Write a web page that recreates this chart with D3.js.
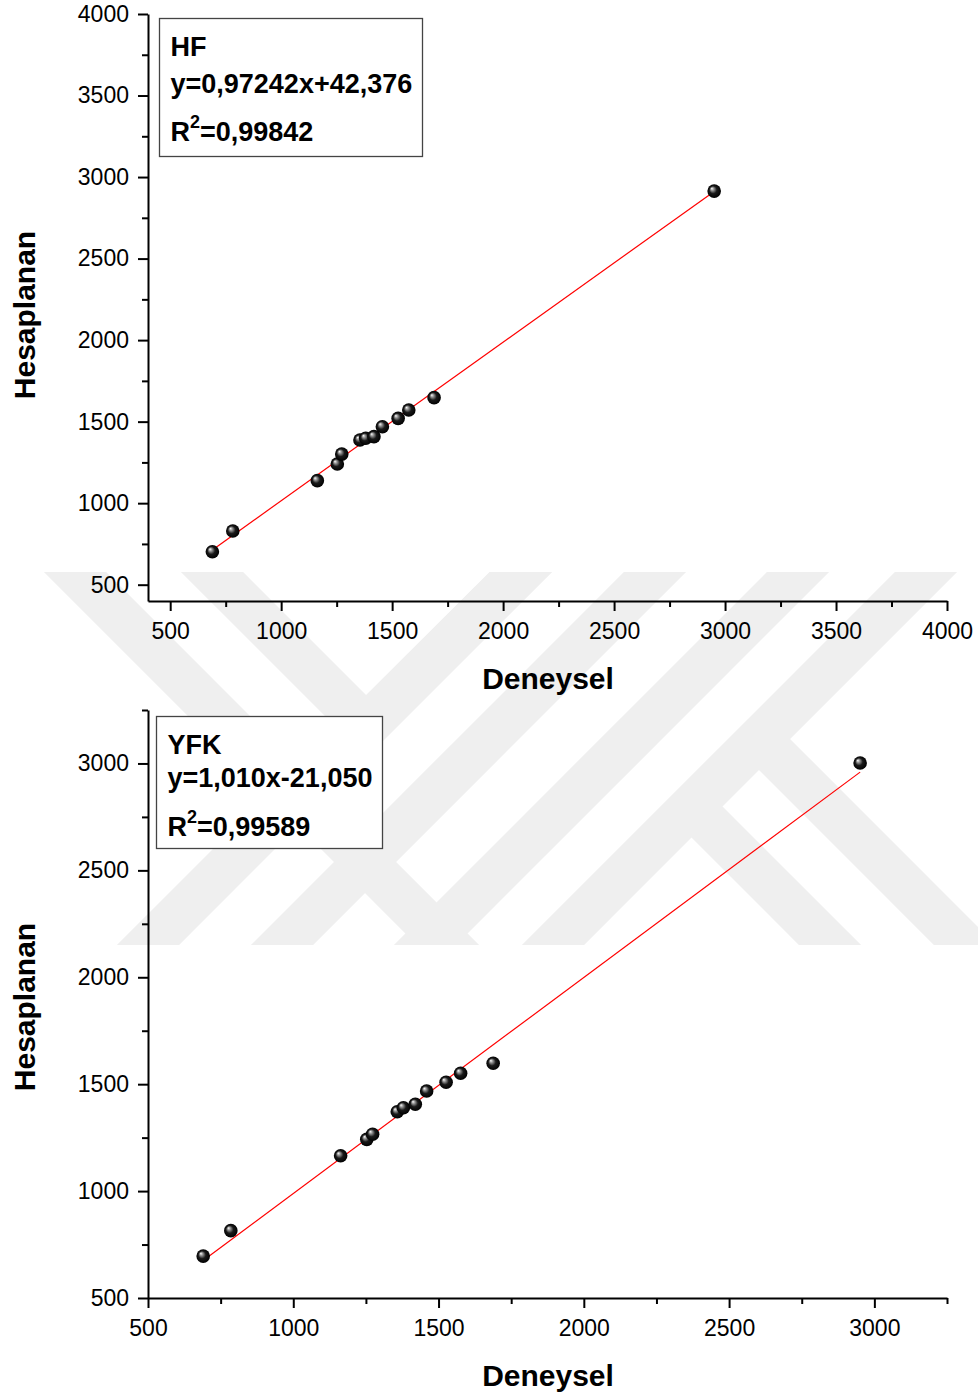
<!DOCTYPE html>
<html><head><meta charset="utf-8">
<script src="https://cdn.jsdelivr.net/npm/d3@7"></script>
<style>
html,body{margin:0;padding:0;background:#fff;}
svg{display:block;font-family:"Liberation Sans",Arial,sans-serif;}
</style></head>
<body>
<svg id="c" width="978" height="1396"></svg>
<script>
// ---- data ----
const hfExp  = [690, 782, 1163, 1253, 1273, 1355, 1381, 1418, 1456, 1527, 1575, 1689, 2951];
const hfCalc = [702, 829, 1138, 1240, 1301, 1387, 1398, 1408, 1469, 1520, 1571, 1647, 2914];
const yfkExp  = [690, 785, 1163, 1253, 1273, 1358, 1379, 1420, 1459, 1526, 1576, 1688, 2951];
const yfkCalc = [696, 815, 1165, 1242, 1266, 1371, 1390, 1406, 1468, 1509, 1551, 1598, 3002];
const hfFit = [0.97242, 42.376];
const yfkFit = [1.010, -21.050];
const hfLegend = ["HF", "y=0,97242x+42,376", "0,99842"];
const yfkLegend = ["YFK", "y=1,010x-21,050", "0,99589"];
const topTicks = [500, 1000, 1500, 2000, 2500, 3000, 3500, 4000];
const botTicks = [500, 1000, 1500, 2000, 2500, 3000];
const xTitle = "Deneysel";
const yTitle = "Hesaplanan";

const svg = d3.select("#c");
const defs = svg.append("defs");
const grad = defs.append("radialGradient").attr("id","ball")
  .attr("cx","0.5").attr("cy","0.5").attr("r","0.5").attr("fx","0.32").attr("fy","0.3");
grad.append("stop").attr("offset","0").attr("stop-color","#ffffff");
grad.append("stop").attr("offset","0.22").attr("stop-color","#9a9a9a");
grad.append("stop").attr("offset","0.55").attr("stop-color","#1a1a1a");
grad.append("stop").attr("offset","1").attr("stop-color","#000000");

// ---- watermark (decorative) ----
defs.append("clipPath").attr("id","wmclip").append("rect")
  .attr("x",40).attr("y",572).attr("width",938).attr("height",373);
const wm = svg.append("g").attr("clip-path","url(#wmclip)")
  .attr("fill","none").attr("stroke","#efefef").attr("stroke-width",44).attr("stroke-linecap","butt").attr("stroke-linejoin","miter");
const k = 1.0;
function bandPts(xTop, yA, yB, dir){ return [[xTop + dir*k*(yA-572), yA],[xTop + dir*k*(yB-572), yB]]; }
const line = d3.line();
wm.append("path").attr("d", line(bandPts(75, 520, 1000, 1)));
wm.append("path").attr("d", line([[212 - 52, 520],[366, 726],[521 + 52, 520]]));
[521, 655, 798, 926].forEach(x=> wm.append("path").attr("d", line(bandPts(x, 520, 1000, -1))));
wm.append("path").attr("d", line([[760,740],[1020,1000]]));
wm.append("path").attr("d", line([[700,815],[885,1000]]));

// ---- panels ----
function panel(o){
  const x = d3.scaleLinear().domain(o.xDom).range([148, 947]);
  const y = d3.scaleLinear().domain(o.yDom).range([o.yBot, o.yTop]);
  const g = svg.append("g");
  const minor = (dom, ticks)=> {
    const out=[]; for(let v=ticks[0]-250; v<=dom[1]+0.1; v+=500){ if(v>=dom[0]-0.1) out.push(v); }
    return out;
  };
  g.append("g").attr("transform",`translate(0,${o.yBot})`)
    .call(d3.axisBottom(x).tickValues(minor(o.xDom,o.xTicks)).tickSize(6).tickSizeOuter(0).tickFormat(""))
    .call(a=>a.select(".domain").remove()).selectAll("line").attr("stroke-width",2);
  g.append("g").attr("transform",`translate(148,0)`)
    .call(d3.axisLeft(y).tickValues(minor(o.yDom,o.yTicks)).tickSize(6).tickSizeOuter(0).tickFormat(""))
    .call(a=>a.select(".domain").remove()).selectAll("line").attr("stroke-width",2);
  const xa = g.append("g").attr("transform",`translate(0,${o.yBot})`)
    .call(d3.axisBottom(x).tickValues(o.xTicks).tickSize(10).tickSizeOuter(0).tickPadding(12).tickFormat(d3.format("d")));
  const ya = g.append("g").attr("transform",`translate(148,0)`)
    .call(d3.axisLeft(y).tickValues(o.yTicks).tickSize(10).tickSizeOuter(0).tickPadding(9).tickFormat(d3.format("d")));
  [xa,ya].forEach(a=>{
    a.select(".domain").attr("stroke-width",2).attr("stroke","#000");
    a.selectAll("line").attr("stroke-width",2);
    a.selectAll("text").attr("font-size",23).attr("fill","#000").attr("font-family","Liberation Sans, Arial, sans-serif");
  });
  g.append("text").attr("x",548).attr("y",o.yBot+88).attr("text-anchor","middle")
    .attr("font-size",30).attr("font-weight","bold").text(xTitle);
  g.append("text").attr("transform",`translate(35,${o.yTitleC}) rotate(-90)`).attr("text-anchor","middle")
    .attr("font-size",30).attr("font-weight","bold").text(yTitle);
  const xs = d3.extent(o.xs);
  g.append("line").attr("x1",x(xs[0])).attr("y1",y(o.fit[0]*xs[0]+o.fit[1]))
    .attr("x2",x(xs[1])).attr("y2",y(o.fit[0]*xs[1]+o.fit[1]))
    .attr("stroke","#ff0000").attr("stroke-width",1.2);
  g.selectAll("circle.p").data(o.xs.map((v,i)=>[v,o.ys[i]])).enter().append("circle")
    .attr("cx",d=>x(d[0])).attr("cy",d=>y(d[1])).attr("r",6.8).attr("fill","url(#ball)");
  const L = o.leg;
  g.append("rect").attr("x",L.x).attr("y",L.y).attr("width",L.w).attr("height",L.h)
    .attr("fill","#fff").attr("stroke","#444").attr("stroke-width",1.3);
  const t = g.append("g").attr("font-size",27).attr("font-weight","bold").attr("fill","#000");
  t.append("text").attr("x",L.x+11).attr("y",L.y+37).text(o.legend[0]);
  t.append("text").attr("x",L.x+11).attr("y",L.y+L.b2).text(o.legend[1]);
  const r = t.append("text").attr("x",L.x+11).attr("y",L.y+L.b3);
  r.append("tspan").text("R");
  r.append("tspan").attr("font-size",18).attr("dy",-13).text("2");
  r.append("tspan").attr("dy",13).text("="+o.legend[2]);
}

panel({xDom:[400,4000], yDom:[400,4000], yTop:14, yBot:601, xTicks:topTicks, yTicks:topTicks,
  xs:hfExp, ys:hfCalc, fit:hfFit, legend:hfLegend, yTitleC:315,
  leg:{x:159.5,y:18.5,w:263,h:138,b2:74,b3:122}});
panel({xDom:[500,3250], yDom:[500,3250], yTop:710, yBot:1298, xTicks:botTicks, yTicks:botTicks,
  xs:yfkExp, ys:yfkCalc, fit:yfkFit, legend:yfkLegend, yTitleC:1007,
  leg:{x:156.5,y:716.5,w:226,h:132,b2:70,b3:119}});
</script>
</body></html>
